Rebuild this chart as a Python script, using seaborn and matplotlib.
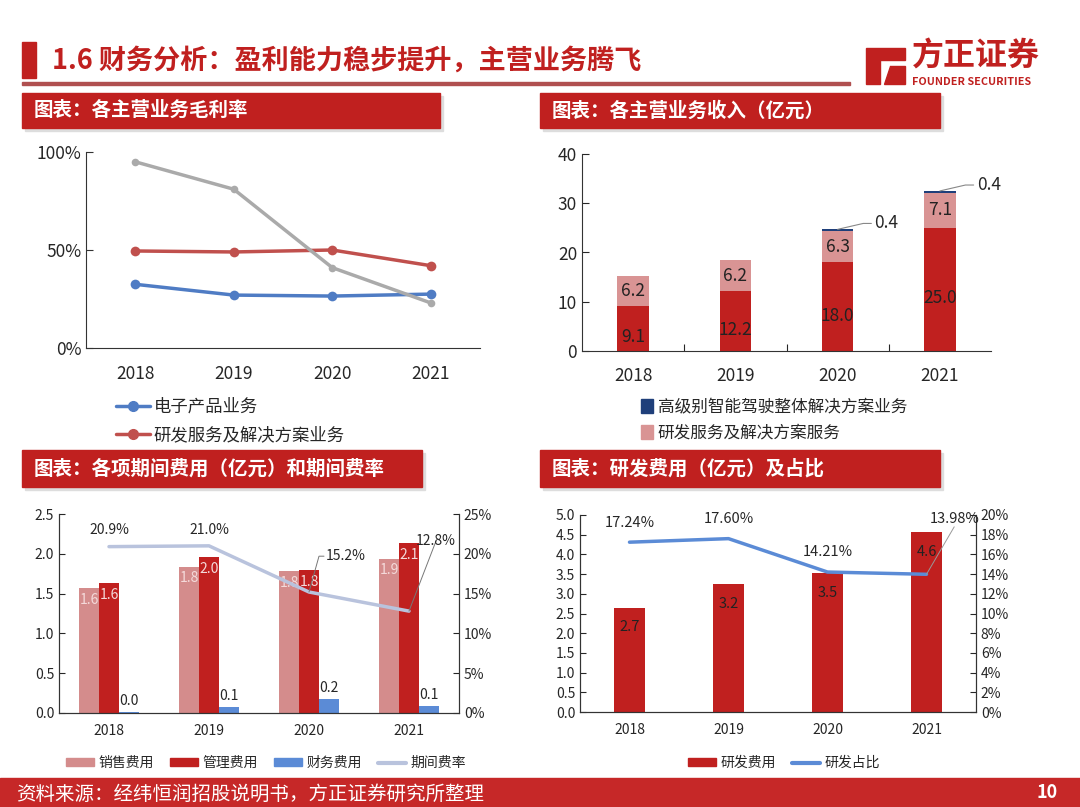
import matplotlib
matplotlib.use("Agg")
import matplotlib.pyplot as plt
import matplotlib.patches as mpatches
from matplotlib.lines import Line2D
import seaborn as sns
import pandas as pd

sns.set_style("white")
plt.rcParams['font.family'] = ['Noto Sans CJK SC', 'DejaVu Sans']
plt.rcParams['axes.unicode_minus'] = False

years = ["2018", "2019", "2020", "2021"]

# chart 1: gross margin (%)
margin_elec = [32.5, 27.0, 26.5, 27.5]
margin_rd = [49.5, 49.0, 50.0, 42.0]
margin_adas = [95.0, 81.0, 41.0, 23.0]

# chart 2: revenue (亿元)
rev_elec = [9.1, 12.2, 18.0, 25.0]
rev_rd = [6.2, 6.2, 6.3, 7.1]
rev_adas = [0.0, 0.0, 0.4, 0.4]

# chart 3: period expenses (亿元) and rate (%)
exp_sales = [1.6, 1.8, 1.8, 1.9]
exp_admin = [1.6, 2.0, 1.8, 2.1]
exp_fin = [0.0, 0.1, 0.2, 0.1]
exp_sales_h = [1.57, 1.84, 1.78, 1.94]
exp_admin_h = [1.63, 1.96, 1.80, 2.14]
exp_fin_h = [0.01, 0.07, 0.18, 0.09]
exp_rate = [20.9, 21.0, 15.2, 12.8]

# chart 4: R&D expense (亿元) and ratio (%)
rd_exp = [2.7, 3.2, 3.5, 4.6]
rd_exp_h = [2.65, 3.25, 3.52, 4.56]
rd_ratio = [17.24, 17.60, 14.21, 13.98]

RED = "#C0201F"
PINK = "#D48C8C"
BLUE = "#5B8BD6"
W, H = 1080, 807
NOEDGE = dict(edgecolor="none", linewidth=0)

fig = plt.figure(figsize=(10.8, 8.07), dpi=100)
fig.patch.set_facecolor("white")


def rect(l, t, r, b):
    return [l / W, 1 - b / H, (r - l) / W, (b - t) / H]


def fig_rect(l, t, r, b, color, **kw):
    fig.patches.append(mpatches.Rectangle((l / W, 1 - b / H), (r - l) / W, (b - t) / H,
                                          transform=fig.transFigure, color=color, **kw))


def ftext(x, y, s, **kw):
    fig.text(x / W, 1 - y / H, s, **kw)


# title
fig_rect(22, 42, 36, 78, RED)
ftext(52, 61, "1.6 财务分析：盈利能力稳步提升，主营业务腾飞", color=RED, fontsize=19.5,
      fontweight="bold", va="center")
fig_rect(22, 82, 850, 85, "#B05050")
# logo
logo = mpatches.Polygon([(866 / W, 1 - 48 / H), (905 / W, 1 - 48 / H), (905 / W, 1 - 60 / H),
                         (880 / W, 1 - 60 / H), (880 / W, 1 - 84 / H), (866 / W, 1 - 84 / H)],
                        closed=True, transform=fig.transFigure, color=RED)
fig.patches.append(logo)
logo2 = mpatches.Polygon([(890 / W, 1 - 66 / H), (905 / W, 1 - 66 / H), (905 / W, 1 - 84 / H),
                          (884 / W, 1 - 84 / H)], closed=True, transform=fig.transFigure, color=RED)
fig.patches.append(logo2)
ftext(912, 57, "方正证券", color=RED, fontsize=23, fontweight="bold", va="center")
ftext(912, 82, "FOUNDER SECURITIES", color=RED, fontsize=7.8, fontweight="bold", va="center")

# headers
for (l, t, r, b, s) in [(22, 93, 440, 128, "图表：各主营业务毛利率"),
                        (540, 93, 940, 128, "图表：各主营业务收入（亿元）"),
                        (22, 450, 422, 487, "图表：各项期间费用（亿元）和期间费率"),
                        (540, 450, 940, 487, "图表：研发费用（亿元）及占比")]:
    fig_rect(l + 3, t + 3, r + 3, b + 3, "#DDDDDD")
    fig_rect(l, t, r, b, RED)
    ftext(l + 12, (t + b) / 2, s, color="white", fontsize=14, fontweight="bold", va="center")

# footer
fig_rect(0, 778, W, H, "#C62828")
ftext(16, 794, "资料来源：经纬恒润招股说明书，方正证券研究所整理", color="white", fontsize=14,
      va="center", style="italic")
ftext(1058, 793, "10", color="white", fontsize=13, fontweight="bold", va="center", ha="right")

# ---- chart 1
ax1 = fig.add_axes(rect(86, 152, 480, 348))
df1 = pd.DataFrame({"year": years * 3,
                    "v": margin_elec + margin_rd + margin_adas,
                    "s": ["e"] * 4 + ["r"] * 4 + ["a"] * 4})
sns.lineplot(data=df1, x="year", y="v", hue="s", palette={"e": "#4F7CC4", "r": "#C0504D", "a": "#AAAAAA"},
             marker="o", markersize=7, markeredgewidth=0, linewidth=2.5, ax=ax1, legend=False)
for l in ax1.lines[2:3]:
    l.set_markersize(5.5)
ax1.set_xlim(-0.5, 3.5)
ax1.set_ylim(0, 100)
ax1.set_yticks([0, 50, 100])
ax1.set_yticklabels(["0%", "50%", "100%"])
ax1.set_xticks([0.5, 1.5, 2.5], minor=False)
ax1.set_xticklabels([])
ax1.tick_params(axis="x", direction="in", length=5, color="#333333")
for i, y in enumerate(years):
    ax1.text(i, -8.5, y, ha="center", va="top", fontsize=12.5, transform=ax1.transData)
ax1.tick_params(axis="y", labelsize=12.5, length=5, direction="in", color="#333333", left=True)
ax1.set_xlabel("")
ax1.set_ylabel("")
for sp in ["top", "right"]:
    ax1.spines[sp].set_visible(False)
for sp in ["left", "bottom"]:
    ax1.spines[sp].set_color("#333333")
h1 = [Line2D([], [], color="#4F7CC4", marker="o", lw=2.5, ms=7),
      Line2D([], [], color="#C0504D", marker="o", lw=2.5, ms=7)]
fig.legend(h1, ["电子产品业务", "研发服务及解决方案业务"], loc="upper left",
           bbox_to_anchor=(100 / W, 1 - 382 / H), frameon=False, fontsize=12.5,
           handlelength=2.0, handletextpad=0.2, labelspacing=0.6)

# ---- chart 2
ax2 = fig.add_axes(rect(582, 154, 991, 351))
sns.barplot(x=years, y=rev_elec, color=RED, width=0.31, ax=ax2, saturation=1, **NOEDGE)
sns.barplot(x=years, y=rev_rd, bottom=rev_elec, color="#D99494", width=0.31, ax=ax2, saturation=1, **NOEDGE)
tops = [a + b for a, b in zip(rev_elec, rev_rd)]
sns.barplot(x=years, y=rev_adas, bottom=tops, color="#1F3F7A", width=0.31, ax=ax2, saturation=1, **NOEDGE)
ax2.set_ylim(0, 40)
ax2.set_xlim(-0.5, 3.5)
ax2.set_yticks([0, 10, 20, 30, 40])
ax2.set_xticks([0.5, 1.5, 2.5])
ax2.set_xticklabels([])
ax2.tick_params(axis="x", direction="in", length=5, bottom=True)
ax2.tick_params(axis="y", labelsize=12.5, direction="in", length=5, left=True)
for i, y in enumerate(years):
    ax2.text(i, -3.2, y, ha="center", va="top", fontsize=12.5)
    ax2.text(i, rev_elec[i] / 2 - 1.8, f"{rev_elec[i]:.1f}", ha="center", va="center", fontsize=12.5, color="#222222")
    ax2.text(i, rev_elec[i] + rev_rd[i] / 2, f"{rev_rd[i]:.1f}", ha="center", va="center", fontsize=12.5, color="#222222")
    if rev_adas[i] > 0:
        yt = tops[i] + rev_adas[i]
        ax2.plot([i, i + 0.25, i + 0.33], [yt, yt + 1.2, yt + 1.2], color="#888888", lw=0.8)
        ax2.text(i + 0.36, yt + 1.2, f"{rev_adas[i]:.1f}", ha="left", va="center", fontsize=12.5)
for sp in ["top", "right"]:
    ax2.spines[sp].set_visible(False)
for sp in ["left", "bottom"]:
    ax2.spines[sp].set_color("#333333")
h2 = [mpatches.Patch(color="#1F3F7A"), mpatches.Patch(color="#D99494")]
fig.legend(h2, ["高级别智能驾驶整体解决方案业务", "研发服务及解决方案服务"], loc="upper left",
           bbox_to_anchor=(626 / W, 1 - 384 / H), frameon=False, fontsize=12,
           handlelength=0.7, handleheight=0.9, handletextpad=0.3, labelspacing=0.5)

# ---- chart 3
ax3 = fig.add_axes(rect(59, 514, 459, 713))
df3 = pd.DataFrame({"year": years * 3, "v": exp_sales_h + exp_admin_h + exp_fin_h,
                    "k": ["销售费用"] * 4 + ["管理费用"] * 4 + ["财务费用"] * 4})
sns.barplot(data=df3, x="year", y="v", hue="k", palette=[PINK, RED, BLUE], width=0.6,
            saturation=1, ax=ax3, legend=False, **NOEDGE)
ax3.set_ylim(0, 2.5)
ax3.set_xlim(-0.5, 3.5)
ax3.set_yticks([0, 0.5, 1.0, 1.5, 2.0, 2.5])
ax3.set_yticklabels([f"{v:.1f}" for v in [0, 0.5, 1.0, 1.5, 2.0, 2.5]])
ax3.tick_params(axis="y", labelsize=10, direction="in", length=4, left=True)
ax3.tick_params(axis="x", labelsize=10, length=0, pad=8)
ax3.set_xlabel("")
ax3.set_ylabel("")
ax3.spines["top"].set_visible(False)
for i in range(4):
    ax3.text(i - 0.2, exp_sales_h[i] - 0.2, f"{exp_sales[i]:.1f}", ha="center", fontsize=10, color="#F4DADA")
    ax3.text(i, exp_admin_h[i] - 0.2, f"{exp_admin[i]:.1f}", ha="center", fontsize=10, color="#F4DADA")
    ax3.text(i + 0.2, exp_fin_h[i] + 0.09, f"{exp_fin[i]:.1f}", ha="center", fontsize=10)
ax3r = ax3.twinx()
sns.lineplot(x=[0, 1, 2, 3], y=exp_rate, color="#B9C3DD", linewidth=2.5, ax=ax3r)
ax3r.set_ylim(0, 25)
ax3r.set_yticks([0, 5, 10, 15, 20, 25])
ax3r.set_yticklabels([f"{v}%" for v in [0, 5, 10, 15, 20, 25]])
ax3r.tick_params(axis="y", labelsize=10, direction="in", length=4, right=True)
ax3r.spines["top"].set_visible(False)
for sp in ["left", "bottom", "right"]:
    ax3.spines[sp].set_color("#333333")
    ax3r.spines[sp].set_color("#333333")
ax3r.text(0, 22.5, "20.9%", ha="center", fontsize=10)
ax3r.text(1, 22.5, "21.0%", ha="center", fontsize=10)
ax3r.plot([2.0, 2.1, 2.15], [15.2, 19.7, 19.7], color="#777777", lw=0.7)
ax3r.text(2.17, 19.7, "15.2%", ha="left", va="center", fontsize=10)
ax3r.plot([3.0, 3.27], [12.8, 21.6], color="#777777", lw=0.7)
ax3r.text(3.27, 21.6, "12.8%", ha="center", va="center", fontsize=10)
h3 = [mpatches.Patch(color=PINK), mpatches.Patch(color=RED), mpatches.Patch(color=BLUE),
      Line2D([], [], color="#B9C3DD", lw=3)]
fig.legend(h3, ["销售费用", "管理费用", "财务费用", "期间费率"], loc="center",
           bbox_to_anchor=(266 / W, 1 - 763 / H), ncol=4, frameon=False, fontsize=10,
           handlelength=2.0, handleheight=0.5, handletextpad=0.3, columnspacing=1.2)

# ---- chart 4
ax4 = fig.add_axes(rect(580, 515, 976, 712))
sns.barplot(x=years, y=rd_exp_h, color=RED, width=0.32, saturation=1, ax=ax4, **NOEDGE)
ax4.set_ylim(0, 5)
ax4.set_xlim(-0.5, 3.5)
ax4.set_yticks([i * 0.5 for i in range(11)])
ax4.set_yticklabels([f"{i * 0.5:.1f}" for i in range(11)])
ax4.tick_params(axis="y", labelsize=10, direction="in", length=4, left=True)
ax4.tick_params(axis="x", labelsize=10, length=0, pad=8)
ax4.spines["top"].set_visible(False)
for i in range(4):
    ax4.text(i, rd_exp_h[i] - 0.6, f"{rd_exp[i]:.1f}", ha="center", fontsize=10.5, color="#222222")
ax4r = ax4.twinx()
sns.lineplot(x=[0, 1, 2, 3], y=rd_ratio, color="#5B8BD6", linewidth=2.5, ax=ax4r)
ax4r.set_ylim(0, 20)
ax4r.set_yticks(list(range(0, 21, 2)))
ax4r.set_yticklabels([f"{v}%" for v in range(0, 21, 2)])
ax4r.tick_params(axis="y", labelsize=10, direction="in", length=4, right=True)
ax4r.spines["top"].set_visible(False)
for sp in ["left", "bottom", "right"]:
    ax4.spines[sp].set_color("#333333")
    ax4r.spines[sp].set_color("#333333")
ax4r.text(0, 18.8, "17.24%", ha="center", fontsize=10.5)
ax4r.text(1, 19.2, "17.60%", ha="center", fontsize=10.5)
ax4r.text(2, 15.8, "14.21%", ha="center", fontsize=10.5)
ax4r.plot([3.0, 3.28], [13.98, 18.8], color="#999999", lw=0.7)
ax4r.text(3.28, 19.6, "13.98%", ha="center", va="center", fontsize=10.5)
h4 = [mpatches.Patch(color=RED), Line2D([], [], color="#5B8BD6", lw=3)]
fig.legend(h4, ["研发费用", "研发占比"], loc="center",
           bbox_to_anchor=(784 / W, 1 - 763 / H), ncol=2, frameon=False, fontsize=10,
           handlelength=2.0, handleheight=0.5, handletextpad=0.3, columnspacing=1.2)

fig.savefig("out.png", dpi=100)
